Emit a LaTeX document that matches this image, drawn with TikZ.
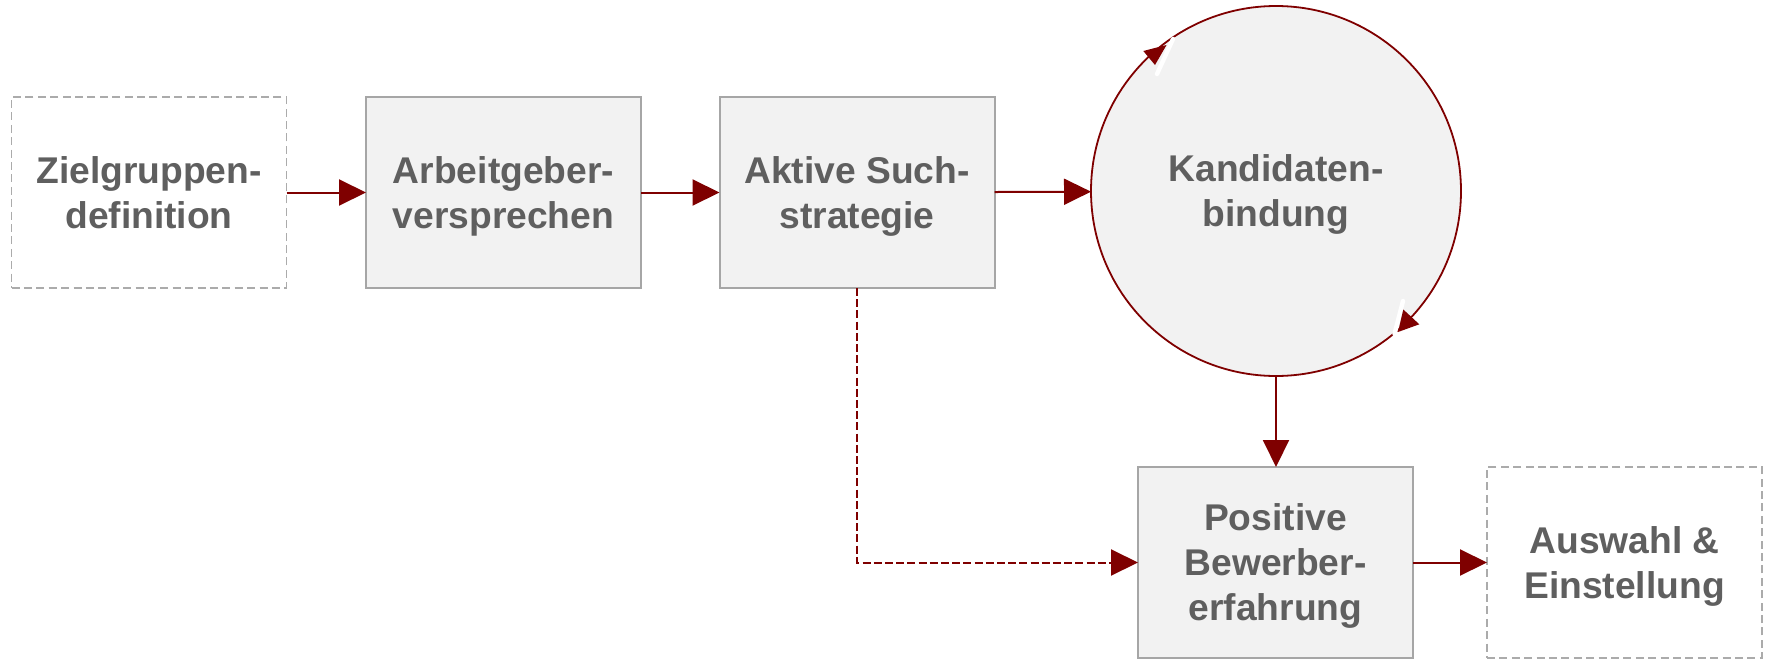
\documentclass[tikz,border=0pt]{standalone}
\usepackage{fontspec}
\setmainfont{Liberation Sans}
\usetikzlibrary{arrows.meta}
\definecolor{dred}{HTML}{7F0000}
\definecolor{boxfill}{HTML}{F2F2F2}
\definecolor{boxline}{HTML}{A6A6A6}
\definecolor{dashline}{HTML}{ABABAB}
\definecolor{txt}{HTML}{5F5F5F}
\begin{document}
\begin{tikzpicture}[x=0.5pt,y=-0.5pt,
  base/.style={minimum width=137.5pt,minimum height=95.5pt,inner sep=0pt,outer sep=0pt,
    align=center,text=txt,text depth=0pt,font=\fontsize{18.6}{22.5}\selectfont\bfseries},
  solidbox/.style={base,draw=boxline,fill=boxfill,line width=1pt},
  dashbox/.style={base,draw=dashline,fill=white,line width=0.9pt,dash pattern=on 4pt off 2.2pt},
  circbox/.style={circle,minimum size=185pt,inner sep=0pt,outer sep=0pt,draw=dred,fill=boxfill,line width=0.9pt,
    align=center,text=txt,text depth=0pt,font=\fontsize{18.6}{22.5}\selectfont\bfseries},
  conn/.style={draw=dred,line width=1pt,-{Triangle[length=13.5pt,width=13pt]}},
  dconn/.style={conn,dash pattern=on 4pt off 1.6pt},
  gap/.style={white,line width=2.2pt,line cap=round},
  tipfill/.style={fill=dred}]
\useasboundingbox (0,0) rectangle (1767,659);
\node[dashbox]  (ziel) at (149,192.5) {Zielgruppen-\\definition};
\node[solidbox] (arb)  at (503.5,192.5) {Arbeitgeber-\\versprechen};
\node[solidbox] (such) at (857,192.5) {Aktive Such-\\strategie};
\node[circbox]  (kand) at (1276,191) {Kandidaten-\\bindung};
\node[solidbox] (pos)  at (1275.5,562.5) {Positive\\Bewerber-\\erfahrung};
\node[dashbox]  (ausw) at (1624.5,562.5) {Auswahl \&\\Einstellung};
\draw[conn] (ziel) -- (arb);
\draw[conn] (arb) -- (such);
\draw[conn] (such) -- (kand);
\draw[conn] (kand.south) -- (kand.south |- pos.north);
\draw[dconn] (such.south) |- (pos.west);
\draw[conn] (pos) -- (ausw);
% circular arrow heads on the circle
\coordinate (g1a) at (1173,39);
\coordinate (g1b) at (1157,74);
\coordinate (t1a) at (1143.3,51);
\coordinate (t1b) at (1166.5,45);
\coordinate (t1c) at (1155,65);
\draw[gap] (g1a) -- (g1b);
\fill[tipfill] (t1a) -- (t1b) -- (t1c) -- cycle;
\coordinate (g2a) at (1403,301);
\coordinate (g2b) at (1394.5,334);
\coordinate (t2a) at (1419.3,324.3);
\coordinate (t2b) at (1403.3,309.5);
\coordinate (t2c) at (1398,332);
\draw[gap] (g2a) -- (g2b);
\fill[tipfill] (t2a) -- (t2b) -- (t2c) -- cycle;
\end{tikzpicture}
\end{document}
